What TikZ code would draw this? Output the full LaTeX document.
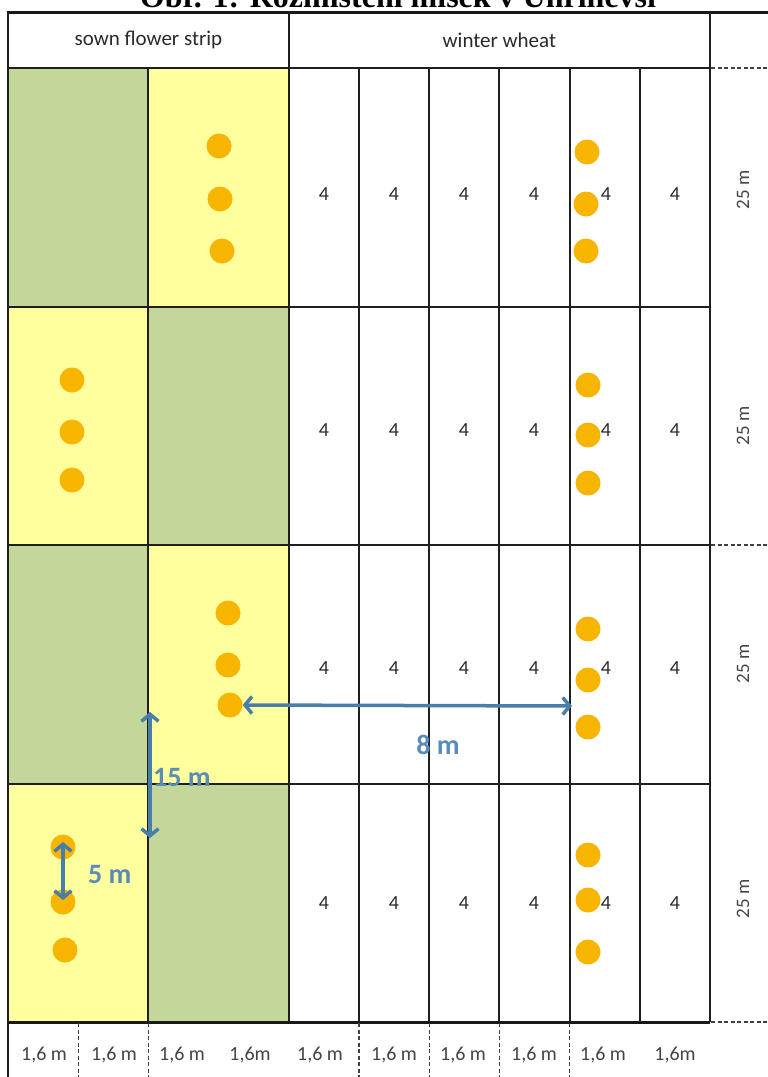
\documentclass[tikz,border=0pt]{standalone}
\usepackage{fontspec}
\setmainfont{Carlito}
\newfontfamily\titlefont{Liberation Serif}
\usetikzlibrary{arrows.meta}
\definecolor{grn}{HTML}{C4D79B}
\definecolor{ylw}{HTML}{FFFF9E}
\definecolor{dotc}{HTML}{F7B500}
\definecolor{arrc}{HTML}{4A7EAA}
\definecolor{lblc}{HTML}{5A8CBB}
\definecolor{txt}{HTML}{2A2A2A}
\definecolor{gtxt}{HTML}{444444}
\begin{document}
\begin{tikzpicture}[x=1pt,y=-1pt,
  gridline/.style={line width=2pt, draw=black!88},
  thickline/.style={line width=3pt, draw=black!90},
  dashline/.style={line width=1.4pt, dash pattern=on 4pt off 2.5pt, draw=black!75},
  trap/.style={circle, fill=dotc, minimum size=25pt, inner sep=0pt},
  num/.style={font=\fontsize{20}{24}\selectfont, text=txt},
  hdr/.style={font=\fontsize{21}{25}\selectfont, text=txt},
  wid/.style={font=\fontsize{20}{24}\selectfont, text=gtxt},
  len/.style={font=\fontsize{19}{23}\selectfont, text=gtxt, rotate=90},
  arr/.style={draw=arrc, line width=3.5pt, {Straight Barb[length=7pt,width=17pt]}-{Straight Barb[length=7pt,width=17pt]}},
  dist/.style={font=\bfseries\fontsize{28}{32}\selectfont, text=lblc}
]
\useasboundingbox (0,0) rectangle (768,1077);
\fill[white] (0,0) rectangle (768,1077);

% title (partly outside the page, as in the reference)
\node[anchor=base, font=\titlefont\bfseries\fontsize{32}{36}\selectfont, inner sep=0pt] (title) at (398,7.5) {Obr. 1: Rozmístění misek v Uhříněvsi};

% flower strip cells
\fill[grn] (8,68) rectangle (148.4,307);
\fill[ylw] (148.4,68) rectangle (288.8,307);
\fill[ylw] (8,307) rectangle (148.4,545);
\fill[grn] (148.4,307) rectangle (288.8,545);
\fill[grn] (8,545) rectangle (148.4,784);
\fill[ylw] (148.4,545) rectangle (288.8,784);
\fill[ylw] (8,784) rectangle (148.4,1022);
\fill[grn] (148.4,784) rectangle (288.8,1022);

% grid
\draw[thickline] (8,12.5) -- (768,12.5);
\draw[gridline] (8,11) -- (8,1077);
\draw[gridline] (288.8,11) -- (288.8,1022);
\draw[gridline] (710,11) -- (710,1022);
\draw[gridline] (148.4,68) -- (148.4,1022);
\foreach \x in {359,429.2,499.4,569.6,639.8} \draw[gridline] (\x,68) -- (\x,1022);
\foreach \y in {68,307,545,784} \draw[gridline] (8,\y) -- (710,\y);
\draw[thickline] (8,1022) -- (710,1022);
\foreach \y in {68,545,1022} \draw[dashline] (711,\y) -- (768,\y);
\foreach \x in {78.2,148.4,359,429.2,499.4,569.6} \draw[dashline] (\x,1023) -- (\x,1077);

% headers
\node[hdr] (h1) at (148.4,40) {sown flower strip};
\node[hdr] (h2) at (499.4,40) {winter wheat};

% numbers and row lengths
\foreach \y [count=\r] in {194,430,668,903}{
  \foreach \x [count=\c] in {324,394,464,534,606,675}
    \node[num] (n\r\c) at (\x,\y) {4};
  \node[len] (l\r) at (743,\y-4) {25 m};
}

% widths
\node[wid] (w1) at (44,1055) {1,6 m};
\node[wid] (w2) at (114,1055) {1,6 m};
\node[wid] (w3) at (182,1055) {1,6 m};
\node[wid] (w4) at (250,1055) {1,6m};
\node[wid] (w5) at (320,1055) {1,6 m};
\node[wid] (w6) at (394,1055) {1,6 m};
\node[wid] (w7) at (463,1055) {1,6 m};
\node[wid] (w8) at (534,1055) {1,6 m};
\node[wid] (w9) at (603,1055) {1,6 m};
\node[wid] (w10) at (675,1055) {1,6m};

% traps in flower strip
\node[trap] (f11) at (219,146) {};
\node[trap] (f12) at (220,199) {};
\node[trap] (f13) at (222,251) {};
\node[trap] (f21) at (72,380) {};
\node[trap] (f22) at (72,432) {};
\node[trap] (f23) at (72,480) {};
\node[trap] (f31) at (228,613) {};
\node[trap] (f32) at (228,665) {};
\node[trap] (f33) at (230,705) {};
\node[trap] (f41) at (63,847) {};
\node[trap] (f42) at (63,902) {};
\node[trap] (f43) at (65,950) {};
% traps in wheat
\node[trap] (g11) at (587,152) {};
\node[trap] (g12) at (586,204) {};
\node[trap] (g13) at (586,251) {};
\node[trap] (g21) at (588,385) {};
\node[trap] (g22) at (588,435) {};
\node[trap] (g23) at (588,483) {};
\node[trap] (g31) at (588,629) {};
\node[trap] (g32) at (588,680) {};
\node[trap] (g33) at (588,727) {};
\node[trap] (g41) at (588,855) {};
\node[trap] (g42) at (588,900) {};
\node[trap] (g43) at (588,952) {};

% distance arrows
\coordinate (e8) at (572,706);
\draw[arr] (f33.east) -- (e8);
\node[dist] (d8) at (438,745) {8 m};
\coordinate (a15t) at (150,712);
\coordinate (a15b) at (150,838);
\draw[arr] (a15t) -- (a15b);
\node[dist, anchor=west, inner sep=0pt] (d15) at (153,777) {15 m};
\coordinate (a5t) at (63,842);
\coordinate (a5b) at (63,900);
\draw[arr] (a5t) -- (a5b);
\node[dist, anchor=west, inner sep=0pt] (d5) at (88,875) {5 m};
\end{tikzpicture}
\end{document}
